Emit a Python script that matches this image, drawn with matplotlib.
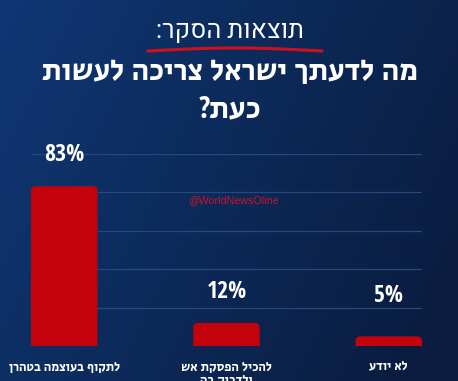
import numpy as np
import matplotlib
matplotlib.use("Agg")
import matplotlib.pyplot as plt
from matplotlib.patches import FancyBboxPatch

# נתוני הסקר
categories = ["לתקוף בעוצמה בטהרן", "להכיל הפסקת אש\nולדבוק בה", "לא יודע"]
values = [83, 12, 5]
value_labels = ["83%", "12%", "5%"]
supertitle = "תוצאות הסקר:"
title_line1 = "מה לדעתך ישראל צריכה לעשות"
title_line2 = "כעת?"
watermark = "@WorldNewsOline"

HEB_BOLD = ['Open Sans Condensed', 'Secular One', 'DejaVu Sans']
HEB_LIGHT = ['Heebo', 'DejaVu Sans']


def rtl(s):
    # matplotlib אינו תומך בכיווניות, הופכים כל שורה ידנית
    return "\n".join(line[::-1] for line in s.split("\n"))


def fit(txt, width_px):
    # מתאים את גודל הגופן לרוחב הנמדד בתמונה
    r = fig.canvas.get_renderer()
    w = txt.get_window_extent(r).width
    txt.set_fontsize(txt.get_fontsize() * width_px / w)


fig = plt.figure(figsize=(4.58, 3.81), dpi=100)

# רקע בגרדיאנט כחול
bg = fig.add_axes([0, 0, 1, 1], zorder=-10)
bg.axis('off')
X, Y = np.meshgrid(np.linspace(0, 1, 200), np.linspace(0, 1, 200))
c_left = np.array([0x0f, 0x37, 0x74]) / 255
c_right = np.array([0x0a, 0x1c, 0x3e]) / 255
t = np.clip(0.75 * X + 0.3 * Y, 0, 1)[..., None]
bg.imshow(c_left * (1 - t) + c_right * t, extent=[0, 1, 0, 1], aspect='auto', origin='upper')
bg.set_xlim(0, 1)
bg.set_ylim(0, 1)

ax = fig.add_axes([31 / 458, 35 / 381, 391 / 458, 192.5 / 381])
ax.set_facecolor('none')
x = np.arange(len(categories))
bars = ax.bar(x, values, width=0.41, color='#c4020c')
ax.set_xlim(-0.205, 2.205)
ax.set_ylim(0, 100)

# פינות מעוגלות לעמודות
aspect = (391 / 2.41) / (192.5 / 100)
for b in bars:
    b.set_visible(False)
    p = FancyBboxPatch((b.get_x(), -10), b.get_width(), b.get_height() + 10,
                       boxstyle=f"round,pad=0,rounding_size={5 / (391 / 2.41)}",
                       mutation_aspect=aspect, facecolor='#c4020c',
                       edgecolor='none', zorder=3)
    ax.add_patch(p)

ax.set_yticks([20, 40, 60, 80, 100])
ax.yaxis.grid(True, color='#24497c', linewidth=0.9)
ax.set_axisbelow(True)
ax.tick_params(left=False, bottom=False, labelleft=False)
for s in ax.spines.values():
    s.set_visible(False)

ax.set_xticks(x)
ticklabels = ax.set_xticklabels([rtl(c) for c in categories], color='white',
                                fontsize=12, va='top', linespacing=1.0,
                                family=HEB_BOLD)
ax.tick_params(axis='x', pad=7)

vlabels = []
for xi, v, lab in zip(x, values, value_labels):
    vlabels.append(ax.text(xi, max(v, 10) + 16, lab, ha='center', va='center',
                           color='white', fontsize=19, fontweight='bold',
                           family=HEB_BOLD, clip_on=False))

t_sup = fig.text(0.502, 0.918, rtl(supertitle), ha='center', va='center',
                 color='white', fontsize=21, family=HEB_LIGHT)
t1 = fig.text(0.502, 0.811, rtl(title_line1), ha='center', va='center',
              color='white', fontsize=22, family=HEB_BOLD)
t2 = fig.text(0.502, 0.714, rtl(title_line2), ha='center', va='center',
              color='white', fontsize=22, family=HEB_BOLD)
wm = fig.text(0.509, 0.475, watermark, ha='center', va='center',
              color='#c8142c', fontsize=8, family=['Liberation Sans'])

fig.canvas.draw()
fit(t_sup, 148)
fit(t1, 376)
t2.set_fontsize(t1.get_fontsize())
fit(wm, 90)
fit(vlabels[0], 40)
for vl in vlabels[1:]:
    vl.set_fontsize(vlabels[0].get_fontsize())
fit(ticklabels[0], 110)
for tl in ticklabels[1:]:
    tl.set_fontsize(ticklabels[0].get_fontsize())

# קו מברשת אדום מתחת לכותרת
ux = np.linspace(148, 322, 60) / 458
uy = (381 - (51 - 3 * np.sin(np.linspace(0, np.pi, 60)))) / 381
bg.plot(ux, uy, color='#d0101c', linewidth=2.2, solid_capstyle='round',
        transform=fig.transFigure)

fig.savefig('out.png', dpi=100)
